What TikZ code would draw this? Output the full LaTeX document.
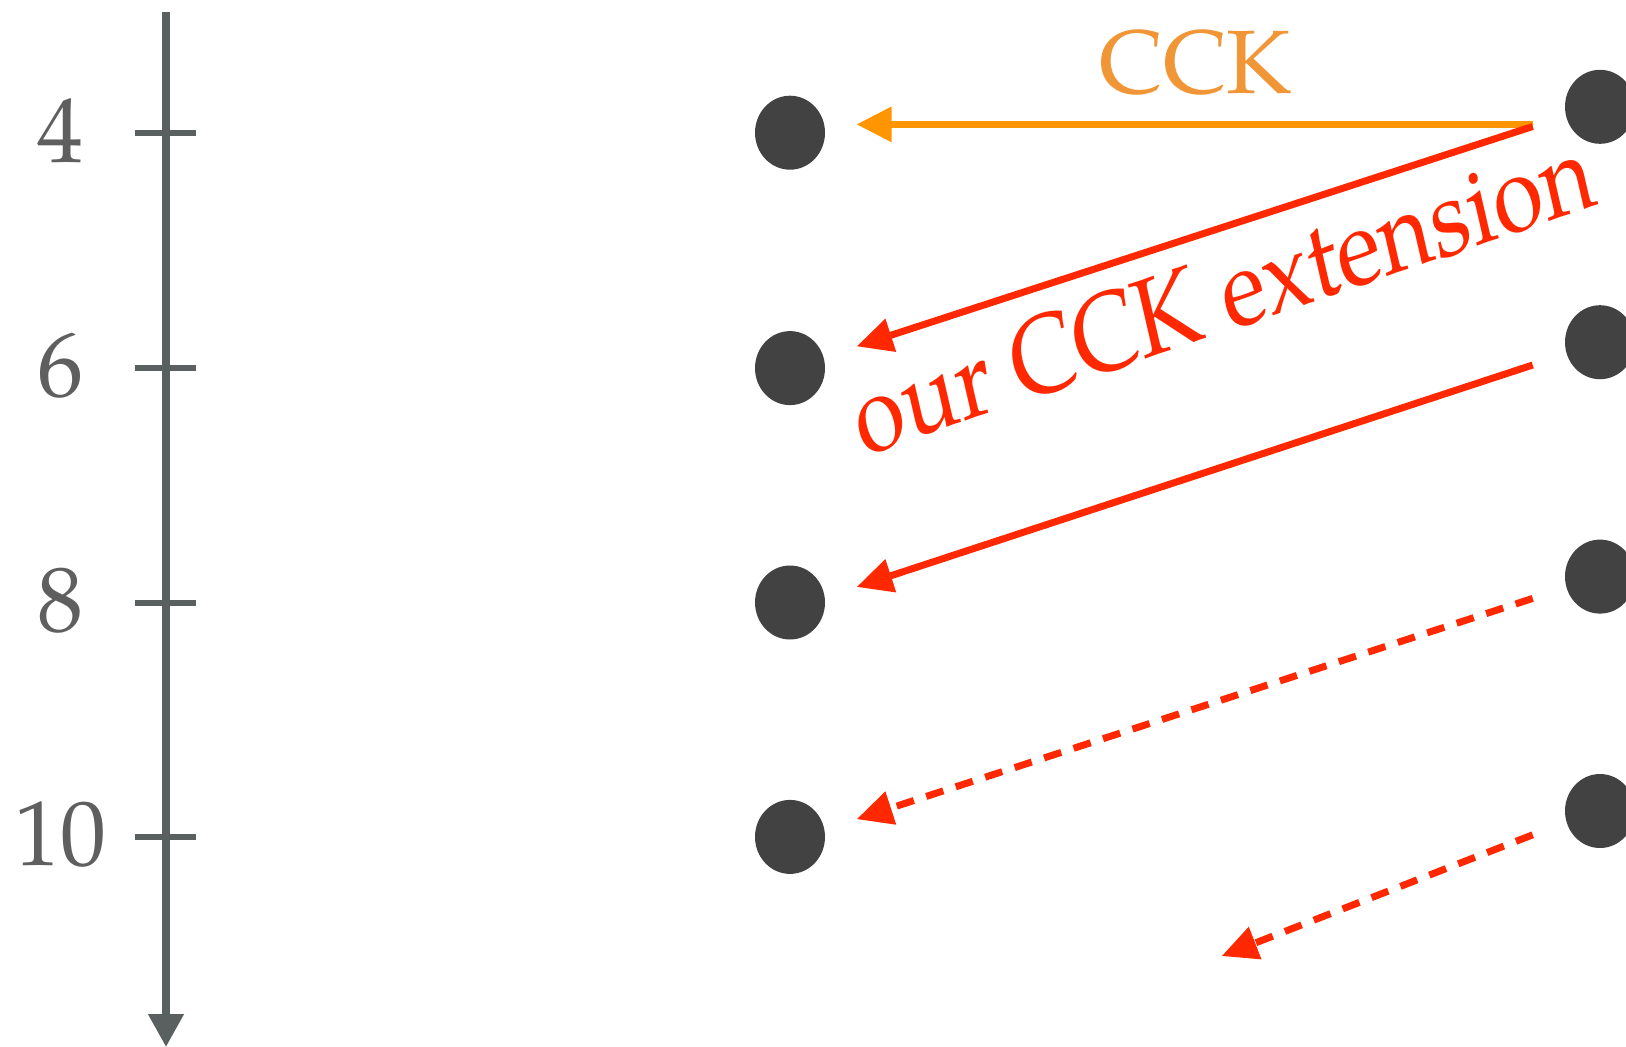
\documentclass[tikz,border=0pt]{standalone}
\usepackage{fontspec}
\setmainfont{TeX Gyre Pagella}
\usepackage{tikz}
\usetikzlibrary{arrows.meta,shapes.geometric}
\definecolor{axisgray}{RGB}{90,95,95}
\definecolor{numgray}{RGB}{95,95,95}
\definecolor{dotgray}{RGB}{66,66,66}
\definecolor{cckorange}{RGB}{255,149,0}
\definecolor{ccktext}{RGB}{240,150,55}
\definecolor{extred}{RGB}{255,40,0}
\tikzset{
  pt/.style={ellipse,fill=dotgray,minimum width=70pt,minimum height=74pt,inner sep=0pt},
  ticklbl/.style={text=numgray,font=\fontsize{92}{100}\selectfont,inner sep=0pt},
  tickmark/.style={draw=axisgray,line width=6pt},
  axisarr/.style={draw=axisgray,line width=7.5pt,-{Triangle[length=33pt,width=34pt]}},
  orarr/.style={draw=cckorange,line width=6.5pt,-{Triangle[length=35pt,width=34pt]}},
  rdarr/.style={draw=extred,line width=7pt,-{Triangle[length=36pt,width=33pt]}},
  rddash/.style={rdarr,dash pattern=on 18pt off 13pt},
}
\begin{document}
\begin{tikzpicture}[x=1pt,y=-1pt]
\useasboundingbox (0,0) rectangle (1626,1047);
% time axis with ticks
\coordinate (atop) at (166,12.4);
\coordinate (abot) at (166,1047);
\draw[axisarr] (atop) -- (abot);
\foreach \n/\y in {4/132.7,6/368.1,8/602.5,10/836.9}{
  \draw[tickmark] (135,\y) -- (196,\y);
  \node[ticklbl] (n\n) at (60,\y-2) {\n};
  \node[pt] (l\n) at (790,\y) {};
  \node[pt] (r\n) at (1600,\y-25.9) {};
}
% messages
\coordinate (s1) at (1532.7,124.4);
\coordinate (t1) at (856.6,124.4);
\coordinate (s2) at (1532.7,126.5);
\coordinate (t2) at (856.6,346.4);
\coordinate (s3) at (1532.7,365);
\coordinate (t3) at (856.6,587);
\coordinate (s4) at (1532.7,598.4);
\coordinate (t4) at (856.6,819.2);
\coordinate (s5) at (1532.7,834.8);
\coordinate (t5) at (1221.6,956.1);
\draw[orarr] (s1) -- (t1);
\draw[rdarr] (s2) -- (t2);
\draw[rdarr] (s3) -- (t3);
\draw[rddash] (s4) -- (t4);
\draw[rddash] (s5) -- (t5);
\node[anchor=base,text=ccktext,font=\fontsize{90}{100}\selectfont,inner sep=0pt] (cck) at (1195.5,93) {CCK};
\node[cm={0.790,0.2706,-0.222,0.963,(0,0)},anchor=base,text=extred,
  font=\fontsize{111}{120}\selectfont,inner sep=0pt] (ext) at (1231,330) {our CCK extension};
\end{tikzpicture}
\end{document}
